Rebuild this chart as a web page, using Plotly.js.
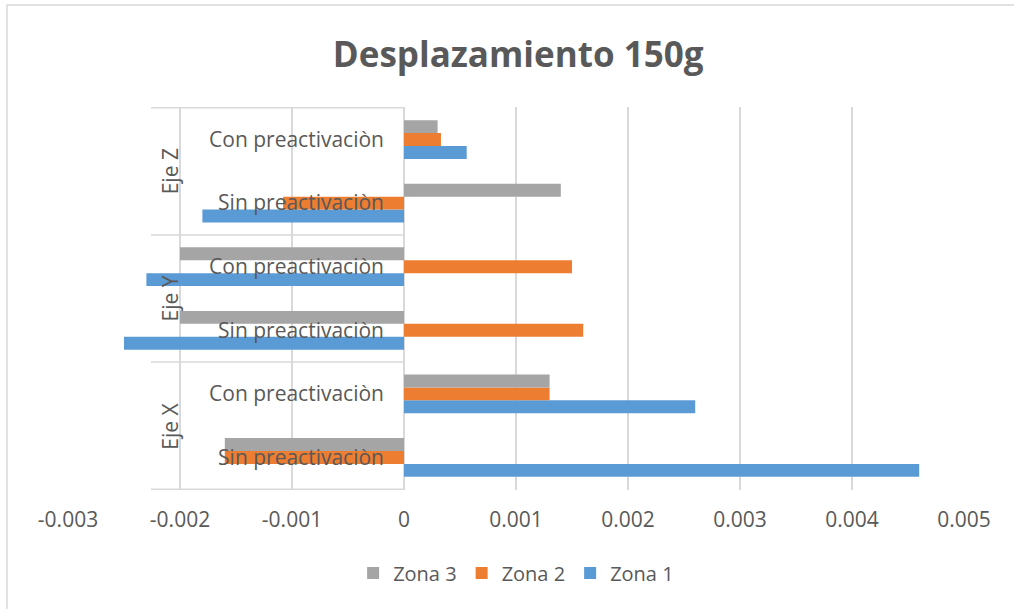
<!DOCTYPE html>
<html>
<head>
<meta charset="utf-8">
<script src="https://cdn.plot.ly/plotly-3.0.1.min.js"></script>
<style>html,body{margin:0;padding:0;background:#fff;}#chart{width:1014px;height:609px;}</style>
</head>
<body>
<div id="chart"></div>
<script>
// Categories (bottom to top)
var categoryKeys = ["X-Sin", "X-Con", "Y-Sin", "Y-Con", "Z-Sin", "Z-Con"];
var categoryLabels = ["Sin preactivaciòn", "Con preactivaciòn", "Sin preactivaciòn", "Con preactivaciòn", "Sin preactivaciòn", "Con preactivaciòn"];
var groupLabels = ["Eje X", "Eje Y", "Eje Z"];

// Series values
var zona1 = [0.0046, 0.0026, -0.0025, -0.0023, -0.0018, 0.00056];
var zona2 = [-0.0016, 0.0013, 0.0016, 0.0015, -0.00108, 0.00033];
var zona3 = [-0.0016, 0.0013, -0.002, -0.002, 0.0014, 0.0003];

// Tick labels
var xTickVals = [-0.003, -0.002, -0.001, 0, 0.001, 0.002, 0.003, 0.004, 0.005];
var xTickText = ["-0.003", "-0.002", "-0.001", "0", "0.001", "0.002", "0.003", "0.004", "0.005"];

var FONT = "Open Sans, sans-serif";
var TXT = "#595959";
var GRID = "#d9d9d9";

function bar(name, vals, color) {
  return {
    type: "bar", orientation: "h", name: name,
    y: categoryKeys, x: vals,
    marker: {color: color, line: {width: 0}},
    hoverinfo: "x+name"
  };
}

var data = [
  bar("Zona 1", zona1, "#5b9bd5"),
  bar("Zona 2", zona2, "#ed7d31"),
  bar("Zona 3", zona3, "#a5a5a5")
];

var xMin = -0.003, xMax = 0.005;
var axisPos = (0 - xMin) / (xMax - xMin);

var shapes = [
  {type: "rect", xref: "paper", yref: "paper", x0: -0.0681, x1: 1.2, y0: -0.5, y1: 1.2663,
   line: {color: GRID, width: 1.5}, fillcolor: "rgba(0,0,0,0)", layer: "below"}
];
[-0.5, 1.5, 3.5, 5.5].forEach(function (yv) {
  shapes.push({type: "line", xref: "paper", yref: "y", x0: 0.0926, x1: axisPos, y0: yv, y1: yv,
    line: {color: GRID, width: 1.5}, layer: "below"});
});

var annotations = groupLabels.map(function (g, i) {
  return {text: g, xref: "paper", yref: "y", x: 0.1138, y: i * 2 + 0.5, showarrow: false,
    textangle: -90, xanchor: "center", yanchor: "middle", font: {family: FONT, size: 21, color: TXT}};
});

var layout = {
  width: 1014, height: 609,
  margin: {l: 68, r: 50, t: 107, b: 119},
  paper_bgcolor: "#fff", plot_bgcolor: "#fff",
  font: {family: FONT, size: 20, color: TXT},
  title: {text: "<b>Desplazamiento 150g</b>", xref: "container", yref: "container", x: 0.511, y: 0.9097,
    xanchor: "center", yanchor: "middle", font: {family: FONT, size: 35, color: TXT}},
  barmode: "group", bargap: 0.39, bargroupgap: 0,
  xaxis: {range: [xMin, xMax], tickvals: xTickVals, ticktext: xTickText, showgrid: true, gridcolor: GRID, gridwidth: 1.5,
    zeroline: true, zerolinecolor: GRID, zerolinewidth: 1.5, showline: false, ticks: "", ticklabelstandoff: 15,
    tickfont: {family: FONT, size: 21, color: TXT}, fixedrange: true},
  yaxis: {type: "category", categoryorder: "array", categoryarray: categoryKeys, tickvals: categoryKeys, ticktext: categoryLabels,
    anchor: "free", position: axisPos, showgrid: false, showline: false, zeroline: false, ticks: "", ticklabelstandoff: 20,
    tickfont: {family: FONT, size: 21, color: TXT}, fixedrange: true},
  legend: {orientation: "h", traceorder: "reversed", xref: "container", yref: "container", x: 0.509, y: 0.059,
    xanchor: "center", yanchor: "middle", font: {family: FONT, size: 20, color: TXT}, itemwidth: 30},
  shapes: shapes,
  annotations: annotations,
  showlegend: true
};

Plotly.newPlot("chart", data, layout, {displayModeBar: false, staticPlot: true});
</script>
</body>
</html>
